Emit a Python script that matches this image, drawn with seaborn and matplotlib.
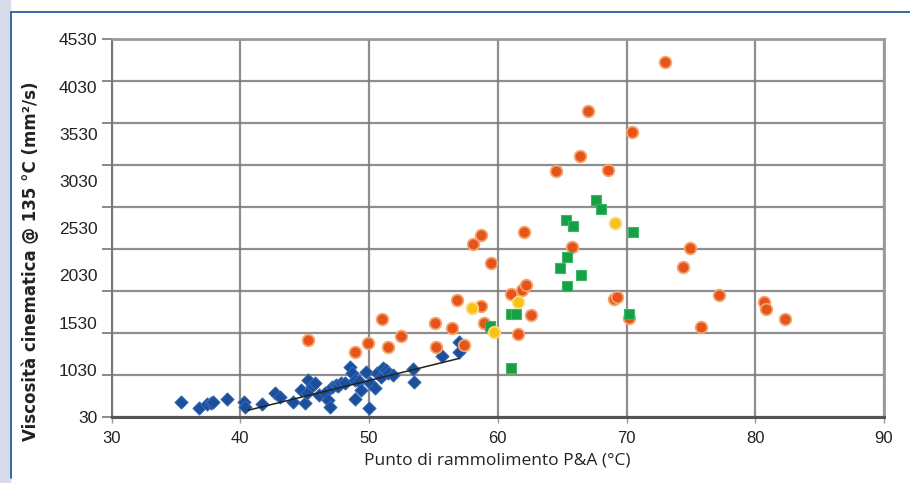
import matplotlib.pyplot as plt
import matplotlib.lines as mlines
import matplotlib.patches as mpatches
import numpy as np
import pandas as pd
import seaborn as sns

# blue diamonds (bitumi distillati)
blue_x = [35.4, 36.8, 37.4, 37.7, 37.9, 39.0, 40.3, 40.4, 41.7, 42.7, 43.1, 44.1,
          45.0, 44.7, 45.3, 45.6, 45.2, 45.8, 46.1, 46.6, 46.8, 47.0, 47.1, 47.4,
          47.6, 47.8, 48.1, 48.55, 48.7, 48.9, 48.9, 49.2, 49.4, 50.0, 49.8, 50.1,
          50.5, 50.6, 50.9, 51.1, 51.3, 51.5, 51.9, 53.4, 53.5, 55.7, 57.0, 57.0]
blue_y = [212, 134, 181, 200, 212, 241, 212, 146, 181, 312, 272, 212,
          193, 352, 471, 403, 312, 440, 292, 312, 233, 146, 391, 411,
          400, 432, 432, 629, 551, 471, 241, 460, 352, 141, 570, 432,
          372, 560, 510, 610, 590, 551, 530, 598, 451, 757, 808, 927]

# orange circles
orange_x = [45.25, 48.9, 49.9, 51.0, 51.45, 52.5, 55.1, 55.2, 56.45, 56.8, 57.4,
            58.1, 58.7, 58.7, 58.9, 59.5, 61.0, 61.6, 61.9, 62.2, 62.0, 62.6,
            64.5, 65.8, 66.4, 67.0, 68.6, 69.0, 69.3, 70.2, 70.4, 73.0, 74.4,
            74.9, 75.8, 77.2, 80.7, 80.8, 82.3]
orange_y = [947, 808, 915, 1198, 868, 995, 1154, 868, 1087, 1424, 888,
            2091, 2198, 1356, 1146, 1861, 1496, 1015, 1543, 1603, 2231, 1245,
            2965, 2059, 3140, 3680, 2973, 1436, 1463, 1206, 3422, 4263, 1821,
            2040, 1106, 1484, 1404, 1313, 1198]

# green squares
green_x = [59.4, 61.0, 61.4, 61.0, 64.8, 65.3, 65.4, 65.4, 65.85, 66.5, 67.6,
           68.0, 70.2, 70.5]
green_y = [1114, 1257, 1257, 610, 1809, 2377, 1933, 1594, 2309, 1722, 2616,
           2505, 1254, 2238]

# yellow circles
yellow_x = [58.0, 59.7, 61.6, 69.1]
yellow_y = [1325, 1046, 1404, 2338]

# trend line of the blue series
trend_x = [40.6, 57.0]
trend_y = [110, 728]

grid_y = list(range(30, 4531, 500))
ytick_labels = ["30", "1030", "1530", "2030", "2530", "3030", "3530", "4030", "4530"]
x_ticks = [30, 40, 50, 60, 70, 80, 90]

sns.set_theme(style="white")
plt.rcParams['font.family'] = ['Liberation Sans', 'DejaVu Sans']

fig, ax = plt.subplots(figsize=(9.1, 4.83), dpi=100)
fig.subplots_adjust(left=111.5 / 910, right=884 / 910, top=1 - 39.3 / 483, bottom=1 - 417 / 483)
fig.set_facecolor('white')

# page frame
fig.patches.append(mpatches.Rectangle((0, 0), 10 / 910, 1, transform=fig.transFigure,
                                      color='#d6dcea', zorder=0))
fig.lines.append(mlines.Line2D([10.5 / 910, 10.5 / 910], [5 / 483, 1 - 12 / 483],
                               transform=fig.transFigure, color='#2a5f9e', lw=1.3))
fig.lines.append(mlines.Line2D([10.5 / 910, 1], [1 - 12 / 483, 1 - 12 / 483],
                               transform=fig.transFigure, color='#2a5f9e', lw=1.3))

sns.lineplot(x=trend_x, y=trend_y, color='#222222', lw=1.1, ax=ax, zorder=3)
sns.scatterplot(x=blue_x, y=blue_y, marker='D', s=46, color='#1b4f9c',
                edgecolor='#3a6fb8', linewidth=0.6, ax=ax, zorder=2)
sns.scatterplot(x=orange_x, y=orange_y, marker='o', s=70, color='#e4541c',
                edgecolor='#f6a36a', linewidth=1.3, ax=ax, zorder=4)
sns.scatterplot(x=green_x, y=green_y, marker='s', s=62, color='#16a045',
                edgecolor='#3cb865', linewidth=0.8, ax=ax, zorder=5)
sns.scatterplot(x=yellow_x, y=yellow_y, marker='o', s=70, color='#f6c21a',
                edgecolor='#fbd97a', linewidth=1.3, ax=ax, zorder=6)

ax.set_xlim(30, 90)
ax.set_ylim(30, 4530)
ax.yaxis.remove_overlapping_locs = False
ax.set_xticks(x_ticks)
ax.set_xticklabels([str(v) for v in x_ticks], fontsize=12, color='#222222')
ax.set_yticks(grid_y)
ax.set_yticklabels([])
ax.set_yticks(np.linspace(30, 4530, len(ytick_labels)), minor=True)
ax.set_yticklabels(ytick_labels, minor=True, fontsize=12.5, color='#222222')
ax.tick_params(axis='y', which='minor', length=0, pad=10)
ax.tick_params(axis='y', which='major', length=7, width=1.2, color='#777777', direction='out', left=True)
ax.tick_params(axis='x', which='major', length=4, width=1, color='#999999', direction='out', bottom=True, pad=6)

ax.grid(True, which='major', color='#7a7a7a', lw=1.6, alpha=0.85)
for side in ['top', 'right']:
    ax.spines[side].set_color('#9a9a9a')
    ax.spines[side].set_linewidth(2)
ax.spines['left'].set_color('#777777')
ax.spines['left'].set_linewidth(1.5)
ax.spines['bottom'].set_color('#555555')
ax.spines['bottom'].set_linewidth(2.2)

ax.set_ylabel('Viscosità cinematica @ 135 °C (mm²/s)', fontsize=12, fontweight='bold',
              family=['DejaVu Sans'], color='#222222')
ax.yaxis.set_label_coords(-0.092, 0.413)
ax.set_xlabel('Punto di rammolimento P&A (°C)', fontsize=12.5, family=['Open Sans', 'DejaVu Sans'],
              color='#222222')
ax.xaxis.set_label_coords(0.5, -0.095)

fig.savefig('out.png', dpi=100)
